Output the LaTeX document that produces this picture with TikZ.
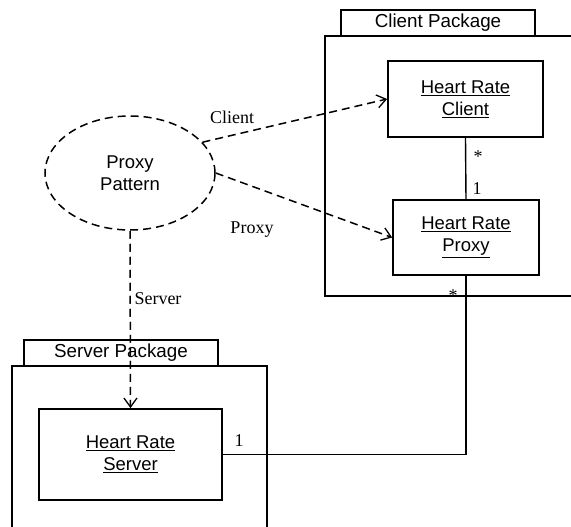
\documentclass[tikz,border=0pt]{standalone}
\usepackage{fontspec}
\setmainfont{Liberation Serif}
\setsansfont{Liberation Sans}
\usetikzlibrary{arrows.meta,shapes.geometric}
\tikzset{
  cls/.style={draw, line width=1.7pt, align=center, font=\sffamily\fontsize{18.5}{22}\selectfont, inner sep=0pt},
  pkgtab/.style={draw, line width=1.4pt, font=\sffamily\fontsize{18.8}{22}\selectfont, inner sep=0pt},
  pkgbody/.style={line width=1.4pt},
  pattern/.style={draw, ellipse, line width=1.5pt, dash pattern=on 8pt off 5pt, align=center, inner sep=0pt, font=\sffamily\fontsize{18.5}{22}\selectfont},
  dep/.style={line width=1.5pt, dash pattern=on 8pt off 5pt, -{Straight Barb[length=9pt,width=13pt,line width=1.3pt]}},
  assoc/.style={line width=1.4pt},
  lbl/.style={font=\rmfamily\fontsize{18}{22}\selectfont, inner sep=0pt}
}
\begin{document}
\begin{tikzpicture}[x=1pt,y=-1pt]
\useasboundingbox (0,0) rectangle (571,527);
% Client package
\node[pkgtab, minimum width=194pt, minimum height=26pt] (ctab) at (438,23) {Client Package};
\coordinate (cb1) at (571,36);
\coordinate (cb2) at (325,36);
\coordinate (cb3) at (325,296);
\coordinate (cb4) at (571,296);
\draw[pkgbody] (cb1) -- (cb2) -- (cb3) -- (cb4);
% Server package
\node[pkgtab, minimum width=194pt, minimum height=26pt] (stab) at (121,353) {Server Package};
\coordinate (sb1) at (12,527);
\coordinate (sb2) at (12,366);
\coordinate (sb3) at (267,366);
\coordinate (sb4) at (267,527);
\draw[pkgbody] (sb1) -- (sb2) -- (sb3) -- (sb4);
% classes
\node[cls, minimum width=155pt, minimum height=76pt] (client) at (465.5,99) {\underline{Heart Rate}\\\underline{Client}};
\node[cls, minimum width=146pt, minimum height=75pt] (proxy) at (466,237.5) {\underline{Heart Rate}\\\underline{Proxy}};
\node[cls, minimum width=183pt, minimum height=91pt] (server) at (130.5,454.5) {\underline{Heart Rate}\\\underline{Server}};
% pattern
\node[pattern, minimum width=170pt, minimum height=114pt] (pp) at (130,173) {Proxy\\Pattern};
% dependencies
\draw[dep] (pp.23) -- (client.west);
\draw[dep] (pp.east) -- (proxy.west);
\draw[dep] (pp.south) -- (server.north);
\node[lbl] (lc) at (232,117) {Client};
\node[lbl] (lp) at (252,230) {Proxy};
\node[lbl] (ls) at (158,299) {Server};
% associations
\draw[assoc] (client.south) -- (proxy.north);
\draw[assoc] (server.east) -| (proxy.south);
\node[lbl] (m1) at (478,157) {*};
\node[lbl] (m2) at (477,189) {1};
\node[lbl] (m3) at (453,296) {*};
\node[lbl] (m4) at (239,441) {1};
\end{tikzpicture}
\end{document}
